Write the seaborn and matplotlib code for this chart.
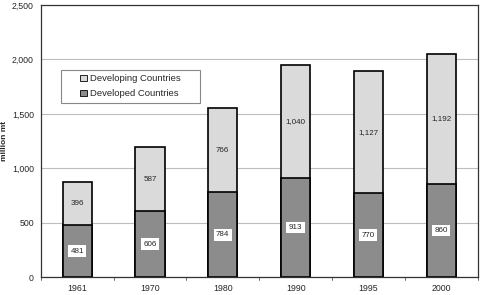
import numpy as np
import pandas as pd
import matplotlib
matplotlib.use('Agg')
import matplotlib.pyplot as plt
import seaborn as sns
from matplotlib.patches import Patch, Rectangle

years = ['1961', '1970', '1980', '1990', '1995', '2000']
developed = [481, 606, 784, 913, 770, 860]
developing = [396, 587, 766, 1040, 1127, 1192]

sns.set_style('white')
plt.rcParams['font.family'] = ['Liberation Sans', 'DejaVu Sans']

dark = '#8c8c8c'
light = '#dadada'

df = pd.DataFrame({'year': years, 'developed': developed, 'developing': developing})
df['total'] = df['developed'] + df['developing']

fig = plt.figure(figsize=(4.8, 2.95), dpi=100)
ax = fig.add_axes([0.085, 0.060, 0.91, 0.923])

sns.barplot(data=df, x='year', y='total', color=light, edgecolor='black',
            linewidth=1.2, width=0.4, saturation=1, ax=ax)
sns.barplot(data=df, x='year', y='developed', color=dark, edgecolor='black',
            linewidth=1.2, width=0.4, saturation=1, ax=ax)

for i, (d, g) in enumerate(zip(developed, developing)):
    ax.text(i, d / 2, f'{d:,}', ha='center', va='center', fontsize=5.8,
            bbox=dict(boxstyle='square,pad=0.3', fc='white', ec='none'))
    ax.text(i, d + g / 2, f'{g:,}', ha='center', va='center', fontsize=5.8)

ax.set_ylim(0, 2500)
ax.set_xlim(-0.5, 5.5)
ax.set_yticks(np.arange(0, 2501, 500))
ax.set_yticklabels([f'{v:,}' for v in range(0, 2501, 500)])
ax.yaxis.grid(True, color='#bdbdbd', linewidth=0.8)
ax.set_axisbelow(True)
ax.tick_params(axis='y', labelsize=6.3, length=0, pad=5)
ax.tick_params(axis='x', labelsize=6.3, length=0, pad=4.5)
ax.set_xticks(range(len(years)))
ax.set_xlabel('')
ax.set_ylabel('million mt', fontsize=6, fontweight='bold')
ax.yaxis.set_label_coords(-0.075, 0.5)
for s in ax.spines.values():
    s.set_color('#333333')
    s.set_linewidth(0.9)

# small ticks between categories
for x in np.arange(-0.5, 6, 1):
    ax.plot([x, x], [0, -25], color='#555555', lw=0.6, clip_on=False)

# legend frame drawn separately so it can be wider than the entries
ax.add_patch(Rectangle((0.046, 0.641), 0.318, 0.121, transform=ax.transAxes,
                       facecolor='white', edgecolor='#888888', linewidth=0.8, zorder=4))
handles = [Patch(facecolor=light, edgecolor='black', linewidth=0.6, label='Developing Countries'),
           Patch(facecolor=dark, edgecolor='black', linewidth=0.6, label='Developed Countries')]
leg = ax.legend(handles=handles, loc='center', bbox_to_anchor=(0.205, 0.701),
                fontsize=6.8, frameon=False,
                handlelength=0.7, handleheight=0.7, handletextpad=0.3,
                borderpad=0.2, labelspacing=0.65)
leg.set_zorder(5)

fig.savefig('out.png', dpi=100)
